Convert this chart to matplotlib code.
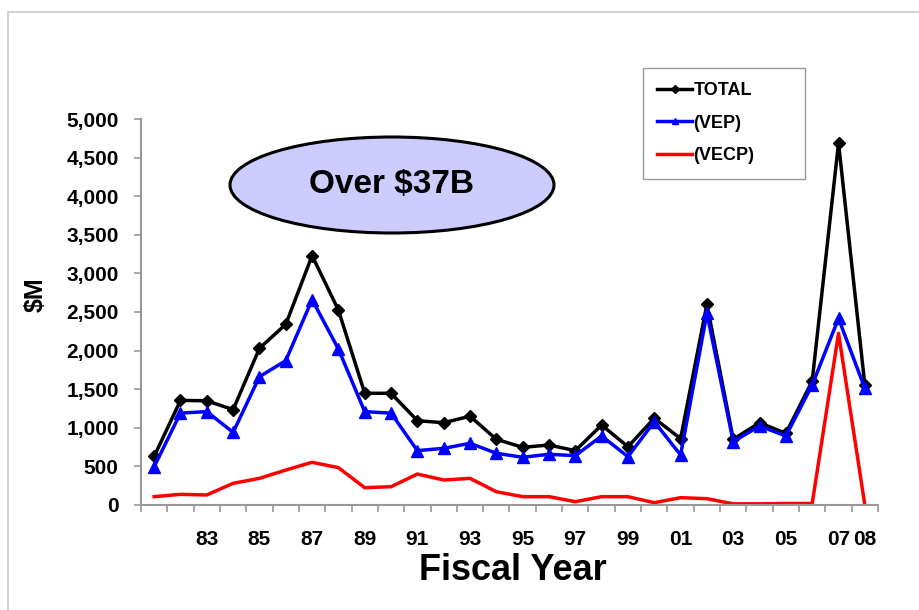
import matplotlib.pyplot as plt
from matplotlib.patches import Ellipse, Rectangle
from matplotlib.ticker import FuncFormatter, FixedLocator

plt.rcParams['font.family'] = ['Liberation Sans', 'DejaVu Sans']
plt.rcParams['font.weight'] = 'bold'

years = ['81', '82', '83', '84', '85', '86', '87', '88', '89', '90',
         '91', '92', '93', '94', '95', '96', '97', '98', '99', '00',
         '01', '02', '03', '04', '05', '06', '07', '08']
shown_labels = ['83', '85', '87', '89', '91', '93', '95', '97', '99',
                '01', '03', '05', '07', '08']

total = [630, 1355, 1350, 1235, 2030, 2340, 3230, 2525, 1447, 1447,
         1092, 1066, 1150, 851, 747, 777, 704, 1036, 755, 1123,
         860, 2600, 851, 1066, 928, 1606, 4690, 1554]
vep = [496, 1190, 1210, 940, 1662, 1870, 2660, 2020, 1209, 1190,
       704, 734, 799, 670, 618, 657, 639, 894, 626, 1079,
       648, 2483, 820, 1023, 894, 1554, 2418, 1511]
vecp = [108, 138, 130, 281, 345, 453, 553, 484, 224, 237,
        401, 324, 345, 172, 108, 108, 43, 108, 108, 30,
        95, 82, 15, 15, 20, 20, 2224, 0]

fig = plt.figure(figsize=(9.2, 6.1), dpi=100)
fig.patches.append(Rectangle((8 / 920, -0.1), 1.2, 1.1 - 12 / 610,
                             transform=fig.transFigure, fill=False,
                             edgecolor='#c8c8c8', linewidth=1.2))

ax = fig.add_axes([141 / 920, 1 - 505 / 610, 737 / 920, 386 / 610])
x = list(range(len(years)))

ax.plot(x, total, color='black', linewidth=2.5, marker='D', markersize=6,
        label='TOTAL')
ax.plot(x, vep, color='#0000ff', linewidth=2.5, marker='^', markersize=8,
        label='(VEP)')
ax.plot(x, vecp, color='#ff0000', linewidth=2.5, label='(VECP)')

ax.set_xlim(-0.5, len(years) - 0.5)
ax.set_ylim(0, 5000)
ax.set_yticks(range(0, 5001, 500))
ax.yaxis.set_major_formatter(FuncFormatter(lambda v, p: f'{int(v):,}'))

# labels at the category centres, tick marks between categories
label_pos = [years.index(s) for s in shown_labels]
ax.xaxis.set_major_locator(FixedLocator(label_pos))
ax.set_xticklabels(shown_labels)
ax.xaxis.set_minor_locator(FixedLocator([i - 0.5 for i in range(len(years) + 1)]))
ax.tick_params(axis='x', which='major', length=0, pad=18, labelsize=15)
ax.tick_params(axis='x', which='minor', length=5, width=1.2, color='#999999',
               direction='out')
ax.tick_params(axis='y', length=5, width=1.2, color='#999999', pad=11,
               labelsize=15)

for side in ['top', 'right']:
    ax.spines[side].set_visible(False)
for side in ['left', 'bottom']:
    ax.spines[side].set_color('#999999')
    ax.spines[side].set_linewidth(1.5)

fig.text(513 / 920, 1 - 571 / 610, 'Fiscal Year', fontsize=26,
         fontweight='bold', ha='center', va='center')
fig.text(36 / 920, 1 - 295 / 610, '$M', fontsize=18, fontweight='bold',
         ha='center', va='center', rotation=90)

ell = Ellipse((392 / 920, 1 - 185 / 610), 324 / 920, 96 / 610,
              transform=fig.transFigure, facecolor='#ccccff',
              edgecolor='black', linewidth=2.2)
fig.patches.append(ell)
fig.text(392 / 920, 1 - 184 / 610, 'Over $37B', fontsize=24,
         fontweight='bold', ha='center', va='center')

leg = ax.legend(loc='upper left',
                bbox_to_anchor=(643 / 920, 1 - 172 / 610, 162 / 920, 104 / 610),
                bbox_transform=fig.transFigure, mode='expand',
                fancybox=False, framealpha=1, edgecolor='#999999',
                fontsize=13, handlelength=1.9, handletextpad=0.1,
                labelspacing=0.85, borderpad=0.8, borderaxespad=0)
leg.get_frame().set_linewidth(1.0)
for h in leg.legend_handles:
    h.set_markersize(4)

fig.savefig('out.png', dpi=100)
